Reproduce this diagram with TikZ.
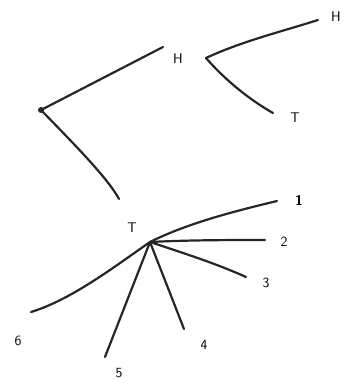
\documentclass[tikz,border=0pt]{standalone}
\begin{document}
\begin{tikzpicture}[x=1pt,y=-1pt,
  edge/.style={line width=2.2pt,draw=black!85,line cap=round},
  lab/.style={inner sep=0pt,font=\fontsize{14}{16}\selectfont\sffamily}]
\useasboundingbox[fill=white] (0,0) rectangle (344,383);
% junctions
\coordinate (root) at (41,110);
\coordinate (jH) at (206,58);
\coordinate (jT) at (150,242);
\fill[black!85] (root) circle (3pt);
% labels
\node[lab] (H1) at (178,59) {H};
\node[lab] (H2) at (336,17) {H};
\node[lab] (T1) at (295,118) {T};
\node[lab] (T2) at (132,228) {T};
\node[lab] (n1) at (299,200) {\bfseries 1};
\node[lab] (n2) at (284,242) {2};
\node[lab] (n3) at (266,283) {3};
\node[lab] (n4) at (204,345) {4};
\node[lab] (n5) at (119,373) {5};
\node[lab] (n6) at (18,341) {6};
% end points
\coordinate (eH1) at (163,47);
\coordinate (eH2) at (318,20);
\coordinate (eT1) at (273,113);
\coordinate (eT2) at (119,199);
\coordinate (e1) at (277,201);
\coordinate (e2) at (265,240);
\coordinate (e3) at (246,277);
\coordinate (e4) at (184,329);
\coordinate (e5) at (105,357);
\coordinate (e6) at (31,312);
% connectors
\draw[edge] (root) -- (eH1);
\draw[edge] (root) .. controls (70,140) and (108,178) .. (eT2);
\draw[edge] (jH) .. controls (240,42) and (280,32) .. (eH2);
\draw[edge] (jH) .. controls (225,80) and (250,100) .. (eT1);
\draw[edge] (jT) .. controls (190,222) and (240,210) .. (e1);
\draw[edge] (jT) .. controls (190,240) and (230,240) .. (e2);
\draw[edge] (jT) .. controls (180,252) and (215,263) .. (e3);
\draw[edge] (jT) -- (e4);
\draw[edge] (jT) -- (e5);
\draw[edge] (jT) .. controls (110,270) and (70,300) .. (e6);
\end{tikzpicture}
\end{document}
